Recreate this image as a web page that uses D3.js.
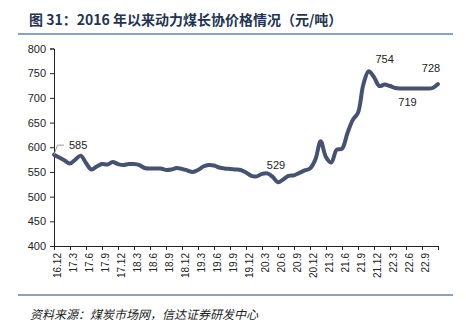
<!DOCTYPE html>
<html><head><meta charset="utf-8">
<script src="https://cdn.jsdelivr.net/npm/d3@7"></script>
<style>
body{margin:0;background:#fff;}
svg{display:block;}
</style></head>
<body>
<svg id="c" width="466" height="325"></svg>
<script>
// ---- data ----
const title = "图 31：2016 年以来动力煤长协价格情况（元/吨）";
const source = "资料来源：煤炭市场网，信达证券研发中心";
// monthly, 2016.12 .. 2022.12
const months = d3.range(0, 73);
const prices = [585,579,573,567,575,583,568,555,561,566,565,570,
  566,564,566,566,564,558,557,557,557,554,555,558,
  556,553,550,554,561,564,563,559,557,556,555,554,
  549,542,541,546,547,540,529,535,542,543,548,553,
  557,575,612,580,569,595,597,628,655,670,727,754,
  742,724,727,724,720,719,719,719,719,719,719,720,728];
const tickLabels = ["16.12","17.3","17.6","17.9","17.12","18.3","18.6","18.9","18.12",
  "19.3","19.6","19.9","19.12","20.3","20.6","20.9","20.12","21.3","21.6","21.9",
  "21.12","22.3","22.6","22.9"];
const yTicks = [400,450,500,550,600,650,700,750,800];
const annotations = [
  {i:42, text:"529"},
  {i:59, text:"754"},
  {i:66, text:"719"},
  {i:72, text:"728"}
];

const svg = d3.select("#c");
const x = d3.scaleLinear().domain([0,72]).range([54,438]);
const y = d3.scaleLinear().domain([400,800]).range([246,48.5]);

// title
svg.append("text").attr("x",29).attr("y",25)
  .attr("font-family","'Noto Sans CJK SC', sans-serif").attr("font-weight","bold")
  .attr("font-size",14).attr("fill","#25344f").text(title);
svg.append("line").attr("x1",18).attr("x2",453).attr("y1",34).attr("y2",34)
  .attr("stroke","#5f84ad").attr("stroke-width",1.5);

// y axis
const yAxis = d3.axisLeft(y).tickValues(yTicks).tickSize(4).tickPadding(4);
const gy = svg.append("g").attr("transform","translate(54,0)").call(yAxis);
gy.selectAll("text").attr("font-family","'Liberation Sans', Arial, sans-serif").attr("font-size",11).attr("fill","#222");
gy.select(".domain").attr("stroke","#222");
gy.selectAll(".tick line").attr("stroke","#222");

// x axis
const xTickVals = d3.range(0,73,3);
const xAxis = d3.axisBottom(x).tickValues(xTickVals).tickSize(4).tickFormat(() => "");
const gx = svg.append("g").attr("transform","translate(0,246)").call(xAxis);
gx.select(".domain").attr("stroke","#222");
gx.selectAll(".tick line").attr("stroke","#222");
svg.append("g").selectAll("text").data(tickLabels).join("text")
  .attr("transform",(d,i)=>`translate(${x(i*3)+3.5},253) rotate(-90)`)
  .attr("text-anchor","end").attr("dominant-baseline","central")
  .attr("font-family","'Liberation Sans', Arial, sans-serif").attr("font-size",10).attr("fill","#222")
  .text(d=>d);

// line
const line = d3.line().x(d=>x(d)).y(d=>y(prices[d])).curve(d3.curveCatmullRom.alpha(0.5));
svg.append("path").datum(months).attr("d",line)
  .attr("fill","none").attr("stroke","#46526f").attr("stroke-width",4)
  .attr("stroke-linejoin","round").attr("stroke-linecap","round");

// first label with leader
const x0 = x(0), y0 = y(prices[0]);
svg.append("path").attr("d",`M${x0},${y0} L${x0+3.5},${y0-9.5} L${x0+10},${y0-9.5}`)
  .attr("fill","none").attr("stroke","#999").attr("stroke-width",1);
svg.append("text").attr("x",x0+15).attr("y",y0-9.5).attr("dominant-baseline","central")
  .attr("font-family","'Liberation Sans', Arial, sans-serif").attr("font-size",11).attr("fill","#222")
  .text(prices[0]);

const off = {42:[-2,-17],59:[16,-12],66:[1.5,14],72:[-7,-16]};
svg.append("g").selectAll("text").data(annotations).join("text")
  .attr("x",d=>x(d.i)+off[d.i][0]).attr("y",d=>y(prices[d.i])+off[d.i][1])
  .attr("text-anchor","middle").attr("dominant-baseline","central")
  .attr("font-family","'Liberation Sans', Arial, sans-serif").attr("font-size",11).attr("fill","#222")
  .text(d=>d.text);

// footer
svg.append("line").attr("x1",18).attr("x2",453).attr("y1",295).attr("y2",295)
  .attr("stroke","#5f84ad").attr("stroke-width",1.5);
svg.append("text").attr("x",30).attr("y",313).attr("dominant-baseline","central")
  .attr("font-family","'Noto Sans CJK SC', sans-serif").attr("font-size",12)
  .attr("font-style","italic").attr("fill","#222")
  .attr("transform","skewX(0)")
  .text(source);
</script>
</body></html>
